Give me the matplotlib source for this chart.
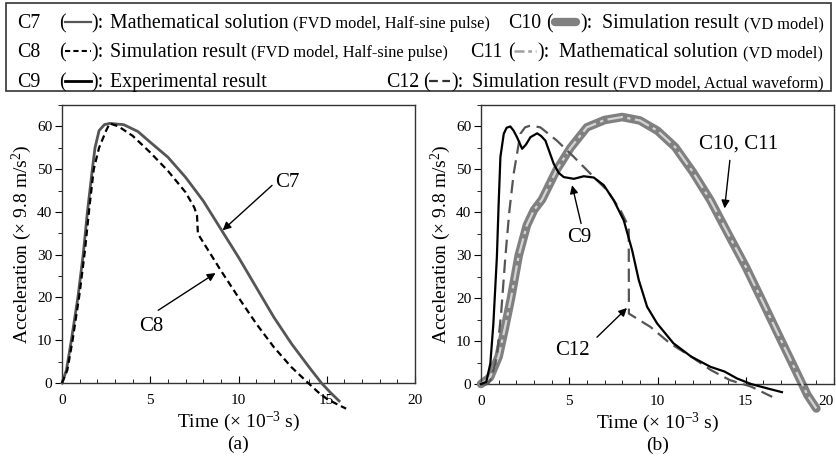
import matplotlib
matplotlib.use("Agg")
import matplotlib.pyplot as plt
from matplotlib.lines import Line2D
from matplotlib.patches import Rectangle
from matplotlib.ticker import MultipleLocator

plt.rcParams['font.family'] = ['Liberation Serif', 'DejaVu Serif']
plt.rcParams['mathtext.fontset'] = 'custom'
plt.rcParams['mathtext.rm'] = 'Liberation Serif'
plt.rcParams['mathtext.it'] = 'Liberation Serif:italic'

# ---- data (time in ms, acceleration in g) ----
c7_t = [0, 0.25, 0.53, 0.9, 1.2, 1.44, 1.72, 1.87, 2.1, 2.4, 2.7, 3.5, 4.3, 5, 6, 7, 8, 9, 10, 11, 12, 13, 14, 14.7, 15.2, 15.7]
c7_a = [0, 3, 10, 20, 30, 40, 50, 55, 59, 60.4, 60.7, 60.4, 58.8, 56.3, 52.8, 48.1, 42.6, 36, 29.4, 22.4, 15.4, 9.2, 3.7, 0, -2.2, -4.2]

c8_t = [0, 0.3, 0.6, 1.0, 1.3, 1.55, 1.8, 2.1, 2.4, 2.5, 2.7, 3.2, 4, 5, 6, 7, 7.5, 7.65, 7.7, 8, 9, 10, 11, 12, 13, 14, 14.5, 15, 15.6, 16.1]
c8_a = [0, 3, 10, 21, 31, 41, 50, 55, 58, 59, 60.7, 60, 57.8, 53.9, 49.6, 44.6, 41, 39.1, 34.9, 32.9, 26.3, 20, 13.9, 8.4, 3.7, -0.2, -2.1, -3.7, -5, -6]

c9_t = [0, 0.3, 0.53, 0.7, 0.9, 1.0, 1.1, 1.29, 1.45, 1.66, 1.85, 2.04, 2.33, 2.55, 2.8, 3.18, 3.4, 3.65, 4.12, 4.4, 4.69, 5.26, 5.82, 6.39, 6.96, 7.52, 8.09, 8.56, 8.94, 9.41, 9.98, 10.9, 11.9, 13, 13.8, 14.5, 15.3, 16.2, 17.05]
c9_a = [0, 0.5, 4.8, 14, 29.6, 42, 52.9, 58.3, 59.7, 60, 59, 57.5, 54.8, 55.8, 57.5, 58.4, 57.8, 56.7, 51.3, 49.2, 48.2, 47.8, 48.4, 48.1, 46.3, 42.8, 38.1, 31.2, 24.2, 18, 14.1, 9.5, 6.4, 4.0, 2.9, 1.3, 0, -1, -1.9]

c12_t = [0, 0.4, 0.6, 0.9, 1.15, 1.38, 1.6, 1.85, 2.04, 2.23, 2.5, 2.8, 3.36, 4.3, 5.26, 6.2, 7.15, 7.9, 8.37, 8.38, 9.6, 10.7, 11.9, 13, 14.1, 15.3, 16.5]
c12_a = [0, 0, 1.5, 6.4, 17, 29.6, 40, 49, 53.6, 58.3, 59.8, 60.2, 59.8, 56.7, 52.9, 49, 45.1, 40.5, 36.6, 16.4, 13.3, 9.5, 6.4, 3.3, 0.9, -0.6, -3]

c10_t = [0, 0.5, 1.0, 1.35, 1.7, 2.14, 2.6, 3.0, 3.46, 4.3, 5.07, 6, 7, 8, 9, 10, 11, 12, 13, 14, 15, 16, 17, 18, 18.5, 19]
c10_a = [0, 1.5, 6.4, 13, 20, 30, 37, 40.5, 43, 50, 55, 59.8, 61.5, 62.2, 61.4, 59, 55.2, 49.4, 42.8, 35, 27.3, 18.8, 10.2, 1.7, -2.6, -5.7]
c11_t = c10_t
c11_a = c10_a

x_ticks = [0, 5, 10, 15, 20]
y_ticks = [0, 10, 20, 30, 40, 50, 60]

fig = plt.figure(figsize=(8.37, 4.69), dpi=100)
W, H = 837, 469


def fx(px):
    return px / W


def fy(py):
    return 1 - py / H


ax1 = fig.add_axes([fx(62), fy(383), fx(415) - fx(62), fy(105) - fy(383)])
ax2 = fig.add_axes([fx(481), fy(384), fx(834) - fx(481), fy(105) - fy(384)])

ax1.plot(c7_t, c7_a, color='#555555', lw=2.0, clip_on=False, zorder=3)
ax1.plot(c8_t, c8_a, color='black', lw=1.6, ls=(0, (3, 1.8)), clip_on=False, zorder=4)

ax2.plot(c10_t, c10_a, color='#808080', lw=6.2, solid_capstyle='round', solid_joinstyle='round', clip_on=False, zorder=2)
ax2.plot(c11_t, c11_a, color='#d4d4d4', lw=1.6, ls=(0, (7, 2, 1.5, 2)), clip_on=False, zorder=3)
ax2.plot(c12_t, c12_a, color='#555555', lw=1.6, ls=(0, (6, 3)), clip_on=False, zorder=4)
ax2.plot(c9_t, c9_a, color='black', lw=1.6, clip_on=False, zorder=5)

for ax, lab in [(ax1, '(a)'), (ax2, '(b)')]:
    ax.set_xlim(0, 20)
    ax.set_ylim(0, 65)
    ax.set_xticks(x_ticks)
    ax.set_yticks(y_ticks)
    ax.xaxis.set_minor_locator(MultipleLocator(1))
    ax.yaxis.set_minor_locator(MultipleLocator(5))
    ax.tick_params(axis='x', which='both', direction='in', labelsize=11, pad=8)
    ax.tick_params(axis='x', which='major', length=5)
    ax.tick_params(axis='x', which='minor', length=3)
    ax.tick_params(axis='y', which='both', direction='out', labelsize=11, pad=2)
    ax.tick_params(axis='y', which='major', length=5)
    ax.tick_params(axis='y', which='minor', length=3)
    for s in ax.spines.values():
        s.set_color('#333333')
        s.set_linewidth(1.0)
    ax.set_xlabel('Time (× 10$^{-3}$ s)', fontsize=14, labelpad=2)
    ax.set_ylabel('Acceleration (× 9.8 m/s$^{2}$)', fontsize=14, labelpad=2)
    ax.text(0.5, -0.19, lab, transform=ax.transAxes, ha='center', va='top', fontsize=14)

# last tick label of panel (b) sits at the figure edge
ax2.get_xticklabels()[-1].set_horizontalalignment('right')

arrow = dict(arrowstyle='-|>', color='black', lw=1.0, mutation_scale=12, shrinkA=0, shrinkB=0)
ax1.annotate('', xy=(9.1, 35.7), xytext=(11.9, 46.2), arrowprops=arrow)
ax1.text(12.1, 46.9, 'C7', fontsize=15, va='center', ha='left')
ax1.annotate('', xy=(8.7, 25.7), xytext=(5.45, 17), arrowprops=arrow)
ax1.text(5.05, 13.3, 'C8', fontsize=15, va='center', ha='center')

ax2.annotate('', xy=(13.8, 40.9), xytext=(14.1, 52.1), arrowprops=arrow)
ax2.text(14.6, 56, 'C10, C11', fontsize=15, va='center', ha='center')
ax2.annotate('', xy=(5.16, 46.3), xytext=(5.67, 37.4), arrowprops=arrow)
ax2.text(5.55, 34.2, 'C9', fontsize=15, va='center', ha='center')
ax2.annotate('', xy=(8.27, 17.7), xytext=(6.57, 10.9), arrowprops=arrow)
ax2.text(5.16, 7.9, 'C12', fontsize=15, va='center', ha='center')

# ---- legend box on top ----
fig.add_artist(Rectangle((fx(6), fy(91)), fx(831) - fx(6), fy(3) - fy(91), transform=fig.transFigure,
                         fill=False, edgecolor='#333333', lw=1.2))

fig.canvas.draw()
rend = fig.canvas.get_renderer()


def put(px, py, s, size):
    t = fig.text(fx(px), fy(py), s, fontsize=size, ha='left', va='baseline')
    bb = t.get_window_extent(renderer=rend)
    return px + bb.width


def sym(x0, x1, py, **kw):
    fig.add_artist(Line2D([fx(x0), fx(x1)], [fy(py), fy(py)], transform=fig.transFigure, **kw))


rows = [28, 57, 87]
big, small = 14.3, 11.8

# row 1
put(17, rows[0], 'C7', big)
put(59, rows[0], '(', big)
sym(65, 91, rows[0] - 6, color='#555555', lw=1.6)
put(91, rows[0], '):', big)
x = put(110, rows[0], 'Mathematical solution', big)
put(x + 4, rows[0], '(FVD model, Half-sine pulse)', small)
put(508, rows[0], 'C10', big)
put(546, rows[0], '(', big)
sym(555, 576, rows[0] - 6, color='#808080', lw=6, solid_capstyle='round')
put(580, rows[0], '):', big)
x = put(602, rows[0], 'Simulation result', big)
put(x + 5, rows[0], '(VD model)', small)

# row 2
put(17, rows[1], 'C8', big)
put(59, rows[1], '(', big)
sym(65, 91, rows[1] - 6, color='black', lw=1.5, ls=(0, (2.5, 1.5)))
put(91, rows[1], '):', big)
x = put(110, rows[1], 'Simulation result', big)
put(x + 4, rows[1], '(FVD model, Half-sine pulse)', small)
put(470, rows[1], 'C11', big)
put(508, rows[1], '(', big)
sym(514, 536, rows[1] - 6, color='#a0a0a0', lw=1.8, ls=(0, (4, 1.5, 1.5, 1.5)))
put(537, rows[1], '):', big)
x = put(559, rows[1], 'Mathematical solution', big)
put(x + 5, rows[1], '(VD model)', small)

# row 3
put(17, rows[2], 'C9', big)
put(59, rows[2], '(', big)
sym(65, 91, rows[2] - 6, color='black', lw=2.0)
put(91, rows[2], '):', big)
put(110, rows[2], 'Experimental result', big)
put(386, rows[2], 'C12', big)
put(423, rows[2], '(', big)
sym(429, 450, rows[2] - 6, color='#333333', lw=1.6, ls=(0, (4, 2)))
put(451, rows[2], '):', big)
x = put(472, rows[2], 'Simulation result', big)
put(x + 4, rows[2], '(FVD model, Actual waveform)', small)

fig.savefig('out.png', dpi=100)
